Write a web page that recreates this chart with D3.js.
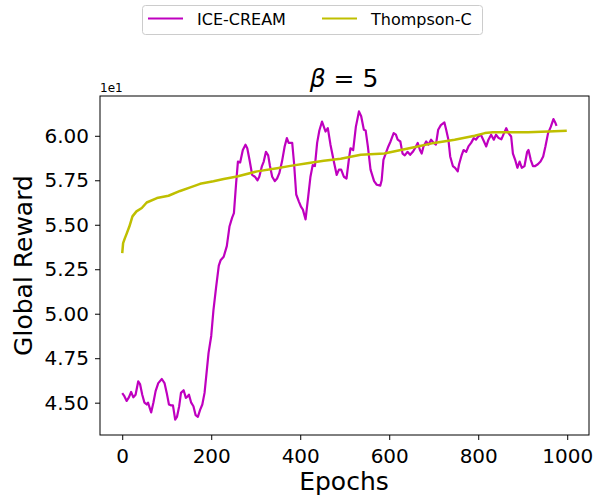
<!DOCTYPE html>
<html>

<head>
    <meta charset="utf-8">
    <style>
        body {
            margin: 0;
            background: white;
        }

        svg text {
            font-family: 'DejaVu Sans', sans-serif;
            fill: #000;
        }
    </style>
</head>

<body>
    <svg width="596" height="500"></svg>
</body>

<script src="https://d3js.org/d3.v7.min.js"></script>

<script>
    // values shown in units of 1e1 (axis offset label)
    let iceEpochs = [0, 4, 10, 15, 20, 25, 30, 36, 40, 45, 50, 55, 58, 65, 70, 75, 81, 89, 95, 100,
        105, 110, 114, 119, 123, 128, 132, 138, 143, 147, 150, 155, 160, 165, 170, 175, 180, 185, 188, 194,
        200, 205, 211, 217, 221, 228, 235, 241, 247, 251, 256, 260, 265, 271, 277, 281, 286, 292, 298, 304,
        308, 314, 318, 323, 328, 332, 337, 343, 348, 353, 359, 365, 370, 374, 382, 386, 391, 397, 402, 406,
        412, 418, 423, 428, 433, 438, 443, 449, 457, 462, 468, 476, 482, 487, 492, 498, 504, 510, 513, 519,
        525, 532, 537, 543, 547, 552, 558, 566, 572, 580, 583, 587, 592, 598, 603, 610, 615, 619, 625, 630,
        635, 641, 647, 653, 658, 664, 669, 673, 677, 683, 688, 694, 700, 705, 710, 716, 724, 728, 733, 737,
        743, 748, 754, 757, 763, 767, 773, 778, 784, 790, 795, 800, 806, 813, 818, 823, 829, 835, 840, 846,
        852, 858, 863, 868, 874, 878, 883, 888, 893, 898, 904, 910, 913, 918, 923, 928, 934, 940, 946, 951,
        957, 963, 969, 973, 976]
    let iceValues = [4.554, 4.54, 4.51, 4.53, 4.56, 4.53, 4.545, 4.62, 4.605, 4.545, 4.50, 4.49, 4.50, 4.445, 4.50, 4.565, 4.61, 4.633, 4.61, 4.555,
        4.49, 4.485, 4.485, 4.405, 4.42, 4.48, 4.555, 4.57, 4.527, 4.535, 4.545, 4.50, 4.48, 4.43, 4.42, 4.46, 4.49, 4.555, 4.63, 4.78,
        4.875, 5.02, 5.15, 5.27, 5.30, 5.32, 5.38, 5.49, 5.54, 5.565, 5.735, 5.855, 5.85, 5.92, 5.95, 5.93, 5.865, 5.78, 5.77, 5.75,
        5.77, 5.83, 5.855, 5.91, 5.89, 5.83, 5.77, 5.745, 5.76, 5.79, 5.855, 5.94, 5.987, 5.96, 5.96, 5.85, 5.67, 5.63, 5.60, 5.585,
        5.53, 5.66, 5.77, 5.835, 5.83, 5.96, 6.03, 6.08, 6.024, 6.043, 5.95, 5.85, 5.78, 5.81, 5.81, 5.77, 5.76, 5.88, 5.93, 5.92,
        6.05, 6.137, 6.11, 6.034, 6.03, 5.94, 5.81, 5.745, 5.725, 5.72, 5.75, 5.865, 5.90, 5.94, 5.968, 6.015, 6.006, 5.978, 5.968, 5.90,
        5.89, 5.91, 5.893, 5.91, 5.93, 5.96, 5.92, 5.90, 5.94, 5.968, 5.95, 5.978, 5.96, 5.95, 6.034, 6.06, 6.075, 6.034, 5.978, 5.884,
        5.83, 5.82, 5.80, 5.84, 5.893, 5.92, 5.91, 5.94, 5.96, 5.987, 5.978, 5.996, 6.006, 5.968, 5.94, 5.978, 6.006, 5.978, 6.006, 5.987,
        5.98, 6.015, 6.043, 6.015, 5.996, 5.90, 5.865, 5.82, 5.855, 5.82, 5.83, 5.91, 5.92, 5.865, 5.83, 5.83, 5.84, 5.855, 5.884, 5.94,
        6.015, 6.05, 6.094, 6.075, 6.056]

    let thomEpochs = [0, 2, 6, 10, 16, 23, 32, 44, 55, 78, 104, 130, 153, 175, 205, 228, 258, 303, 348, 378,
        416, 453, 491, 536, 589, 626, 664, 701, 747, 792, 815, 833, 867, 912, 957, 999]
    let thomValues = [5.34, 5.397, 5.425, 5.45, 5.49, 5.547, 5.575, 5.594, 5.625, 5.65, 5.663, 5.69, 5.71, 5.73, 5.744, 5.757, 5.771, 5.80, 5.818, 5.831,
        5.846, 5.86, 5.871, 5.893, 5.90, 5.92, 5.94, 5.96, 5.978, 6.0, 6.015, 6.02, 6.02, 6.02, 6.024, 6.028]

    let yTicks = [4.50, 4.75, 5.00, 5.25, 5.50, 5.75, 6.00]
    let xTicks = [0, 200, 400, 600, 800, 1000]

    let seriesNames = ["ICE-CREAM", "Thompson-C"]
    let seriesColors = ["#bf00bf", "#bfbf00"]

    let ice = iceEpochs.map((e, i) => [e, iceValues[i]])
    let thom = thomEpochs.map((e, i) => [e, thomValues[i]])

    let axLeft = 100, axRight = 589, axTop = 96, axBottom = 435

    let svg = d3.select("svg")

    // matplotlib-style 5% margins
    let xExt = [0, 999]
    let xPad = (xExt[1] - xExt[0]) * 0.05
    let x = d3.scaleLinear()
        .domain([xExt[0] - xPad, xExt[1] + xPad])
        .range([axLeft, axRight])

    let yExt = d3.extent(iceValues.concat(thomValues))
    let yPad = (yExt[1] - yExt[0]) * 0.05
    let y = d3.scaleLinear()
        .domain([yExt[0] - yPad, yExt[1] + yPad])
        .range([axBottom, axTop])

    let line = d3.line()
        .x(d => x(d[0]))
        .y(d => y(d[1]))

    // clip to axes
    svg.append("clipPath").attr("id", "clip")
        .append("rect")
        .attr("x", axLeft).attr("y", axTop)
        .attr("width", axRight - axLeft).attr("height", axBottom - axTop)

    let plot = svg.append("g").attr("clip-path", "url(#clip)")

    plot.append("path")
        .datum(ice)
        .attr("d", line)
        .style("fill", "none")
        .style("stroke", seriesColors[0])
        .style("stroke-width", 2.2)
        .style("stroke-linejoin", "round")

    plot.append("path")
        .datum(thom)
        .attr("d", line)
        .style("fill", "none")
        .style("stroke", seriesColors[1])
        .style("stroke-width", 2.5)
        .style("stroke-linejoin", "round")

    // axes
    let xAxis = svg.append("g")
        .attr("transform", "translate(0," + axBottom + ")")
        .call(d3.axisBottom(x).tickValues(xTicks).tickFormat(d3.format("d")).tickSize(5).tickPadding(9).tickSizeOuter(0))
    xAxis.selectAll("text").style("font-size", "20px")

    let yAxis = svg.append("g")
        .attr("transform", "translate(" + axLeft + ",0)")
        .call(d3.axisLeft(y).tickValues(yTicks).tickFormat(d3.format(".2f")).tickSize(5).tickPadding(6).tickSizeOuter(0))
    yAxis.selectAll("text").style("font-size", "20px")

    svg.selectAll(".domain").remove()
    svg.selectAll(".tick line").style("stroke", "#000").style("stroke-width", 1)

    // frame
    svg.append("rect")
        .attr("x", axLeft).attr("y", axTop)
        .attr("width", axRight - axLeft).attr("height", axBottom - axTop)
        .style("fill", "none")
        .style("stroke", "#000")
        .style("stroke-width", 1)

    // offset label
    svg.append("text")
        .attr("x", 100).attr("y", 92)
        .style("font-size", "12px")
        .text("1e1")

    // title
    let title = svg.append("text")
        .attr("x", 344).attr("y", 87)
        .attr("text-anchor", "middle")
        .style("font-size", "25px")
    title.append("tspan").style("font-style", "italic").text("β")
    title.append("tspan").text(" = 5")

    // axis labels
    svg.append("text")
        .attr("x", 344).attr("y", 490)
        .attr("text-anchor", "middle")
        .style("font-size", "25px")
        .text("Epochs")

    svg.append("text")
        .attr("transform", "translate(32," + ((axTop + axBottom) / 2) + ") rotate(-90)")
        .attr("text-anchor", "middle")
        .style("font-size", "25px")
        .text("Global Reward")

    // legend
    let legend = svg.append("g")
    legend.append("rect")
        .attr("x", 142.5).attr("y", 5.5)
        .attr("width", 340).attr("height", 29)
        .attr("rx", 3)
        .style("fill", "white")
        .style("stroke", "#cccccc")
        .style("stroke-width", 1)

    let legendX = [148, 322]
    seriesNames.forEach((name, i) => {
        legend.append("line")
            .attr("x1", legendX[i]).attr("x2", legendX[i] + 35)
            .attr("y1", 18.5).attr("y2", 18.5)
            .style("stroke", seriesColors[i])
            .style("stroke-width", 2)
        legend.append("text")
            .attr("x", legendX[i] + 49).attr("y", 25)
            .style("font-size", "16px")
            .text(name)
    })
</script>

</html>
